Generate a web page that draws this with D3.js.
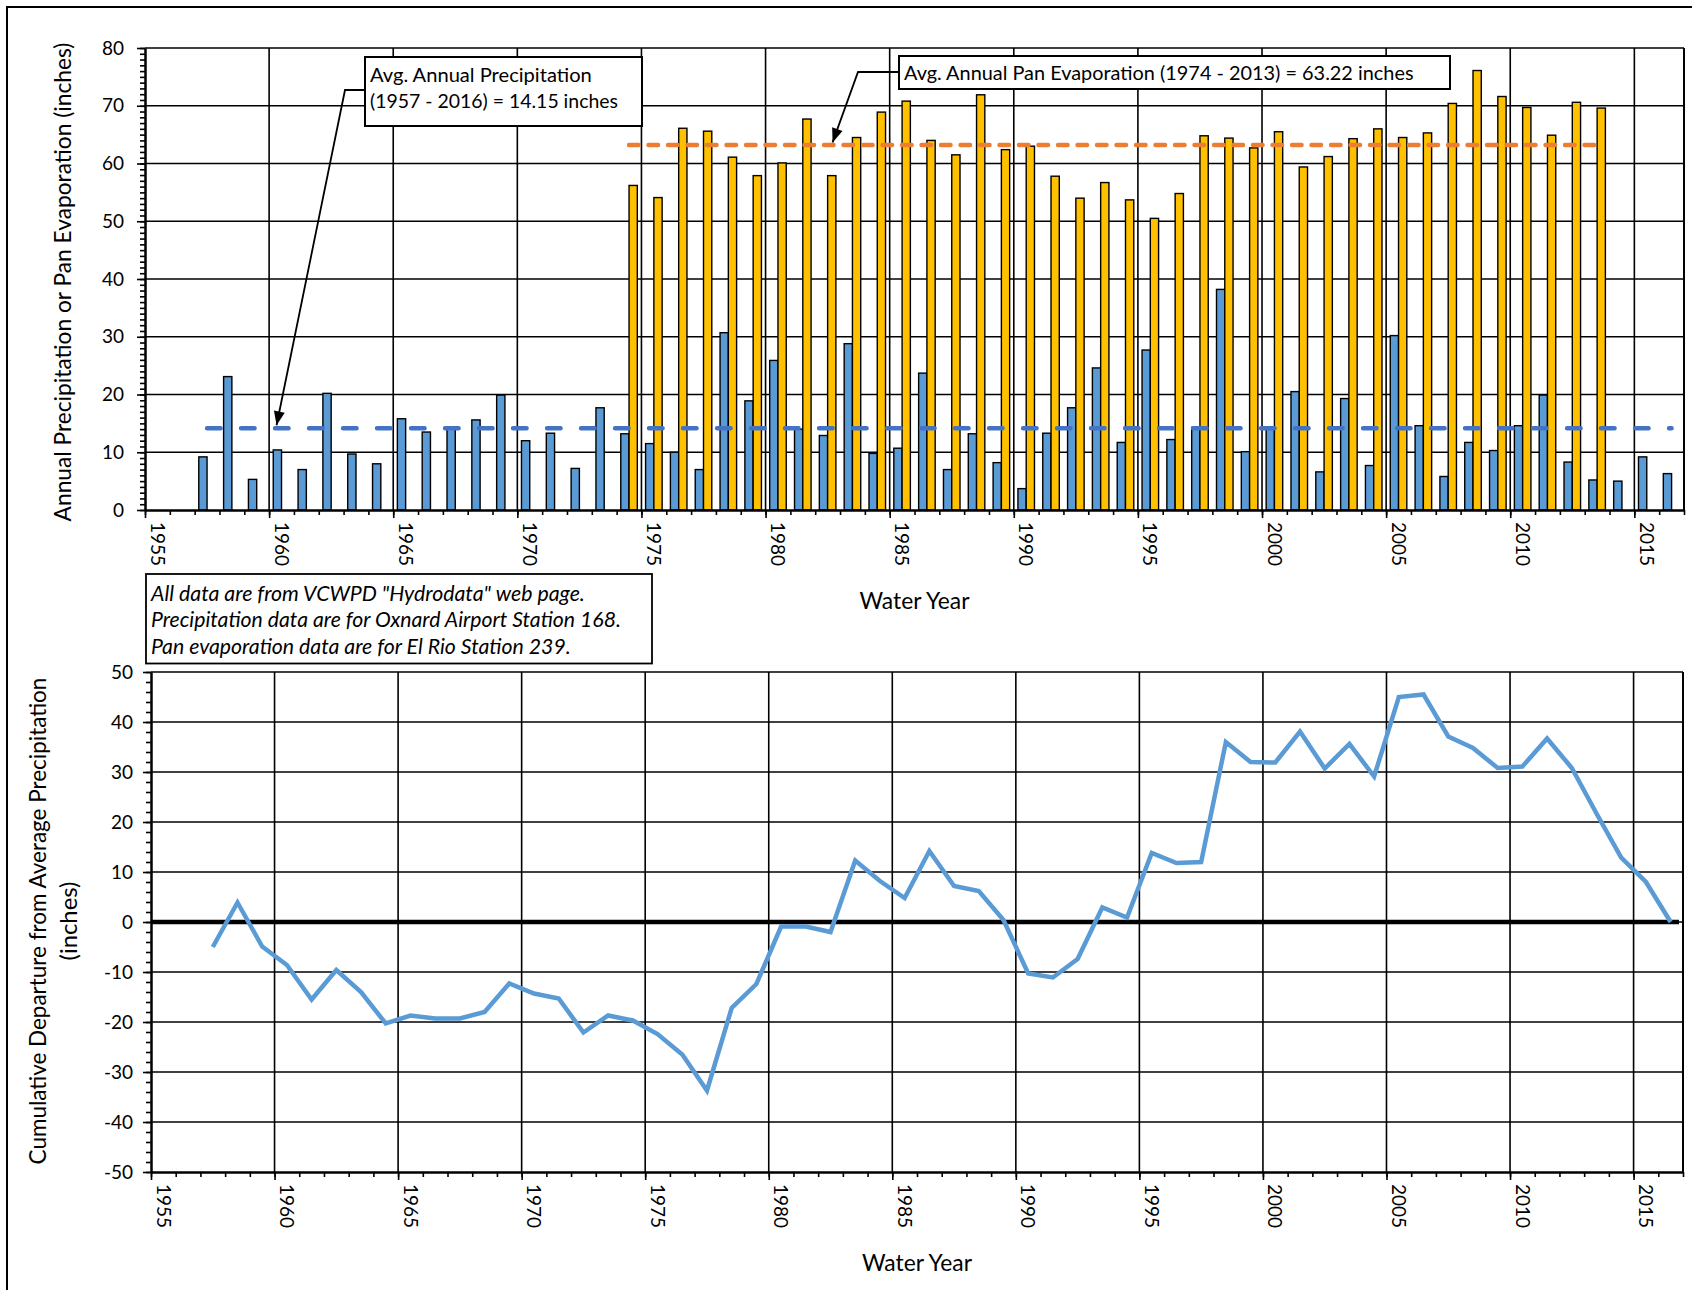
<!DOCTYPE html>
<html>
<head>
<meta charset="utf-8">
<script src="https://cdn.jsdelivr.net/npm/d3@7"></script>
<style>
  html, body { margin: 0; padding: 0; background: #fff; }
  svg { display: block; font-family: Lato, "Open Sans", sans-serif; }
</style>
</head>
<body>
<svg id="chart" width="1692" height="1290"></svg>
<script>
// ---- data -------------------------------------------------------------
const waterYears = [
  1957, 1958, 1959, 1960, 1961, 1962, 1963, 1964, 1965, 1966,
  1967, 1968, 1969, 1970, 1971, 1972, 1973, 1974, 1975, 1976,
  1977, 1978, 1979, 1980, 1981, 1982, 1983, 1984, 1985, 1986,
  1987, 1988, 1989, 1990, 1991, 1992, 1993, 1994, 1995, 1996,
  1997, 1998, 1999, 2000, 2001, 2002, 2003, 2004, 2005, 2006,
  2007, 2008, 2009, 2010, 2011, 2012, 2013, 2014, 2015, 2016
];
// Oxnard Airport Station 168, annual precipitation (inches)
const precipitation = [
   9.2, 23.1,  5.3, 10.4,  7.0, 20.2,  9.7,  8.0, 15.8, 13.5,
  14.1, 15.6, 19.9, 12.0, 13.3,  7.2, 17.7, 13.2, 11.5, 10.0,
   7.0, 30.7, 18.9, 25.9, 14.0, 12.9, 28.8,  9.8, 10.7, 23.7,
   7.0, 13.2,  8.2,  3.7, 13.3, 17.7, 24.6, 11.7, 27.7, 12.2,
  14.3, 38.2, 10.1, 14.1, 20.5,  6.6, 19.3,  7.7, 30.2, 14.6,
   5.8, 11.7, 10.3, 14.6, 19.9,  8.3,  5.2,  5.0,  9.2,  6.3
];
const evapYears = [
  1974, 1975, 1976, 1977, 1978, 1979, 1980, 1981, 1982, 1983,
  1984, 1985, 1986, 1987, 1988, 1989, 1990, 1991, 1992, 1993,
  1994, 1995, 1996, 1997, 1998, 1999, 2000, 2001, 2002, 2003,
  2004, 2005, 2006, 2007, 2008, 2009, 2010, 2011, 2012, 2013
];
// El Rio Station 239, annual pan evaporation (inches)
const panEvaporation = [
  56.2, 54.1, 66.1, 65.6, 61.1, 57.9, 60.1, 67.7, 57.9, 64.5,
  68.9, 70.8, 64.0, 61.5, 71.9, 62.4, 63.0, 57.8, 54.0, 56.7,
  53.7, 50.5, 54.8, 64.8, 64.4, 62.7, 65.5, 59.4, 61.2, 64.3,
  66.0, 64.5, 65.3, 70.4, 76.1, 71.6, 69.7, 64.9, 70.6, 69.6
];
// cumulative departure from the 1957-2016 average (inches)
const cumulativeDeparture = [
   -5.0,   3.9,  -4.9,  -8.6, -15.5,  -9.6, -14.0, -20.3, -18.7, -19.3,
  -19.3, -18.0, -12.3, -14.3, -15.3, -22.1, -18.7, -19.7, -22.4, -26.5,
  -33.7, -17.2, -12.4,  -0.9,  -0.9,  -2.0,  12.3,   8.2,   4.8,  14.2,
    7.2,   6.2,   0.4, -10.3, -11.1,  -7.4,   2.9,   0.9,  13.8,  11.8,
   12.0,  36.0,  32.0,  31.9,  38.1,  30.7,  35.6,  29.1,  45.0,  45.5,
   37.1,  34.8,  30.8,  31.1,  36.7,  30.8,  21.7,  12.9,   8.0,   0.0
];
const avgPrecipitation = 14.15;
const avgEvaporation = 63.22;

const upperTicks = [0, 10, 20, 30, 40, 50, 60, 70, 80];
const lowerTicks = [-50, -40, -30, -20, -10, 0, 10, 20, 30, 40, 50];
const yearTicks = [1955, 1960, 1965, 1970, 1975, 1980, 1985, 1990, 1995, 2000, 2005, 2010, 2015];
const yearDomain = [1955, 2017];

const precipLabel = ["Avg. Annual Precipitation", "(1957 - 2016) = 14.15 inches"];
const evapLabel = "Avg. Annual Pan Evaporation (1974 - 2013) = 63.22 inches";
const sourceNotes = [
  'All data are from VCWPD "Hydrodata" web page.',
  "Precipitation data are for Oxnard Airport Station 168.",
  "Pan evaporation data are for El Rio Station 239."
];

// ---- helpers ----------------------------------------------------------
const svg = d3.select("#chart");
const BLUE = "#5B9BD5", GOLD = "#FFC000", AVG_BLUE = "#4472C4", AVG_ORANGE = "#ED7D31";
const plainNumber = d => String(d); // keeps the ASCII hyphen for negatives

// scale a text node's font size so it spans the given width
function fitWidth(sel, width) {
  sel.each(function () {
    const len = this.getComputedTextLength();
    const fs = parseFloat(this.getAttribute("font-size"));
    if (len > 0) this.setAttribute("font-size", (fs * width / len).toFixed(2));
  });
}

function arrow(g, pts) {
  g.append("path")
    .attr("d", d3.line()(pts))
    .attr("fill", "none").attr("stroke", "#000").attr("stroke-width", 1.8);
  const [a, b] = pts.slice(-2);
  const ang = Math.atan2(b[1] - a[1], b[0] - a[0]);
  const L = 14, W = 5.5;
  const base = [b[0] - L * Math.cos(ang), b[1] - L * Math.sin(ang)];
  const head = [
    b,
    [base[0] + W * Math.sin(ang), base[1] - W * Math.cos(ang)],
    [base[0] - W * Math.sin(ang), base[1] + W * Math.cos(ang)]
  ];
  g.append("path").attr("d", d3.line()(head) + "Z").attr("fill", "#000");
}

// outer frame
svg.append("rect")
  .attr("x", 7).attr("y", 7).attr("width", 1700).attr("height", 1300)
  .attr("fill", "#fff").attr("stroke", "#000").attr("stroke-width", 2);

// ---- upper chart: annual precipitation and pan evaporation ------------
const U = { left: 145, right: 1684, top: 48, bottom: 510 };
const xU = d3.scaleLinear(yearDomain, [U.left, U.right]);
const yU = d3.scaleLinear([0, 80], [U.bottom, U.top]);
const slotU = xU(yearDomain[0] + 1) - xU(yearDomain[0]);
const inner = d3.scaleBand(["precip", "evap"], [0, slotU]).paddingInner(0).paddingOuter(0.5);

const gU = svg.append("g");

// grid
gU.append("g").selectAll("line").data(upperTicks.filter(d => d > 0)).join("line")
  .attr("x1", U.left).attr("x2", U.right)
  .attr("y1", d => yU(d)).attr("y2", d => yU(d))
  .attr("stroke", "#000").attr("stroke-width", 1.3);
gU.append("g").selectAll("line").data(yearTicks.slice(1).concat([yearDomain[1]])).join("line")
  .attr("x1", d => xU(d)).attr("x2", d => xU(d))
  .attr("y1", U.top).attr("y2", U.bottom)
  .attr("stroke", "#000").attr("stroke-width", 1.6);

// bars
const precipData = waterYears.map((y, i) => ({ year: y, value: precipitation[i] }));
const evapData = evapYears.map((y, i) => ({ year: y, value: panEvaporation[i] }));

gU.append("g").selectAll("rect").data(precipData).join("rect")
  .attr("x", d => xU(d.year) + inner("precip"))
  .attr("width", inner.bandwidth())
  .attr("y", d => yU(d.value))
  .attr("height", d => yU(0) - yU(d.value))
  .attr("fill", BLUE).attr("stroke", "#000").attr("stroke-width", 1.4);
gU.append("g").selectAll("rect").data(evapData).join("rect")
  .attr("x", d => xU(d.year) + inner("evap"))
  .attr("width", inner.bandwidth())
  .attr("y", d => yU(d.value))
  .attr("height", d => yU(0) - yU(d.value))
  .attr("fill", GOLD).attr("stroke", "#000").attr("stroke-width", 1.4);

// average lines
gU.append("line")
  .attr("x1", xU(waterYears[0] + 0.5)).attr("x2", xU(waterYears[waterYears.length - 1] + 0.5))
  .attr("y1", yU(avgPrecipitation)).attr("y2", yU(avgPrecipitation))
  .attr("stroke", AVG_BLUE).attr("stroke-width", 4.5)
  .attr("stroke-dasharray", "13.5 20.5").attr("stroke-linecap", "round");
gU.append("line")
  .attr("x1", xU(evapYears[0] + 0.5)).attr("x2", xU(evapYears[evapYears.length - 1] + 0.5))
  .attr("y1", yU(avgEvaporation)).attr("y2", yU(avgEvaporation))
  .attr("stroke", AVG_ORANGE).attr("stroke-width", 4.5)
  .attr("stroke-dasharray", "9.5 10").attr("stroke-linecap", "round");

// axes
gU.append("g").attr("transform", `translate(${U.left},0)`)
  .call(d3.axisLeft(yU).tickValues(d3.range(0, 81, 1)).tickSize(5).tickSizeOuter(0).tickFormat(""));
gU.append("g").attr("transform", `translate(${U.left},0)`)
  .call(d3.axisLeft(yU).tickValues(upperTicks).tickSize(8).tickSizeOuter(0).tickPadding(13).tickFormat(plainNumber));
gU.append("g").attr("transform", `translate(0,${U.bottom})`)
  .call(d3.axisBottom(xU).tickValues(d3.range(yearDomain[0], yearDomain[1] + 1)).tickSize(5).tickSizeOuter(0).tickFormat(""));
const xMajorU = gU.append("g").attr("transform", `translate(0,${U.bottom})`)
  .call(d3.axisBottom(xU).tickValues(yearTicks).tickSize(8).tickSizeOuter(0).tickFormat(plainNumber));

// right border of the plot area
gU.append("line").attr("x1", U.right).attr("x2", U.right).attr("y1", U.top).attr("y2", U.bottom)
  .attr("stroke", "#000").attr("stroke-width", 2);

// ---- lower chart: cumulative departure --------------------------------
const L = { left: 151, right: 1683, top: 672, bottom: 1172 };
const xL = d3.scaleLinear(yearDomain, [L.left, L.right]);
const yL = d3.scaleLinear([-50, 50], [L.bottom, L.top]);
const gL = svg.append("g");

gL.append("g").selectAll("line").data(lowerTicks.filter(d => d > -50)).join("line")
  .attr("x1", L.left).attr("x2", L.right)
  .attr("y1", d => yL(d)).attr("y2", d => yL(d))
  .attr("stroke", "#000").attr("stroke-width", 1.3);
gL.append("g").selectAll("line").data(yearTicks.slice(1).concat([yearDomain[1]])).join("line")
  .attr("x1", d => xL(d)).attr("x2", d => xL(d))
  .attr("y1", L.top).attr("y2", L.bottom)
  .attr("stroke", "#000").attr("stroke-width", 1.6);

// zero reference
gL.append("line")
  .attr("x1", xL(yearDomain[0])).attr("x2", xL(yearDomain[1]) - 4)
  .attr("y1", yL(0)).attr("y2", yL(0))
  .attr("stroke", "#000").attr("stroke-width", 4.5);

const departureData = waterYears.map((y, i) => ({ year: y, value: cumulativeDeparture[i] }));
gL.append("path")
  .datum(departureData)
  .attr("d", d3.line().x(d => xL(d.year + 0.5)).y(d => yL(d.value)))
  .attr("fill", "none").attr("stroke", BLUE).attr("stroke-width", 4.5)
  .attr("stroke-linejoin", "miter").attr("stroke-linecap", "butt");

gL.append("g").attr("transform", `translate(${L.left},0)`)
  .call(d3.axisLeft(yL).tickValues(d3.range(-50, 51, 2)).tickSize(5).tickSizeOuter(0).tickFormat(""));
gL.append("g").attr("transform", `translate(${L.left},0)`)
  .call(d3.axisLeft(yL).tickValues(lowerTicks).tickSize(8).tickSizeOuter(0).tickPadding(10).tickFormat(plainNumber));
gL.append("g").attr("transform", `translate(0,${L.bottom})`)
  .call(d3.axisBottom(xL).tickValues(d3.range(yearDomain[0], yearDomain[1] + 1)).tickSize(5).tickSizeOuter(0).tickFormat(""));
const xMajorL = gL.append("g").attr("transform", `translate(0,${L.bottom})`)
  .call(d3.axisBottom(xL).tickValues(yearTicks).tickSize(8).tickSizeOuter(0).tickFormat(plainNumber));
gL.append("line").attr("x1", L.right).attr("x2", L.right).attr("y1", L.top).attr("y2", L.bottom)
  .attr("stroke", "#000").attr("stroke-width", 2);

// ---- axis styling -------------------------------------------------------
svg.selectAll(".domain").attr("stroke", "#000").attr("stroke-width", 2);
svg.selectAll(".tick line").attr("stroke", "#000").attr("stroke-width", 1.6);
svg.selectAll(".tick text")
  .attr("font-family", "Lato, 'Open Sans', sans-serif").attr("font-size", 19).attr("fill", "#000");

// rotated year labels, reading downward
[xMajorU, xMajorL].forEach(g => {
  g.selectAll(".tick text")
    .attr("transform", "rotate(90)")
    .attr("x", 12).attr("y", -5).attr("dy", 0)
    .attr("text-anchor", "start");
});

// ---- titles -------------------------------------------------------------
const titleFont = "Lato, 'Open Sans', sans-serif";
svg.append("text")
  .attr("transform", "translate(63,282) rotate(-90)")
  .attr("text-anchor", "middle").attr("dy", "0.35em")
  .attr("font-family", titleFont).attr("font-size", 22).attr("fill", "#000")
  .text("Annual Precipitation or Pan Evaporation (inches)")
  .call(fitWidth, 479);

svg.append("text")
  .attr("transform", "translate(38,921) rotate(-90)")
  .attr("text-anchor", "middle").attr("dy", "0.35em")
  .attr("font-family", titleFont).attr("font-size", 22).attr("fill", "#000")
  .text("Cumulative Departure from Average Precipitation")
  .call(fitWidth, 487);
svg.append("text")
  .attr("transform", "translate(69,921) rotate(-90)")
  .attr("text-anchor", "middle").attr("dy", "0.35em")
  .attr("font-family", titleFont).attr("font-size", 22).attr("fill", "#000")
  .text("(inches)")
  .call(fitWidth, 79);

[[(U.left + U.right) / 2, 601], [(L.left + L.right) / 2, 1263]].forEach(([cx, cy]) => {
  svg.append("text")
    .attr("x", cx).attr("y", cy).attr("dy", "0.35em")
    .attr("text-anchor", "middle")
    .attr("font-family", titleFont).attr("font-size", 22).attr("fill", "#000")
    .text("Water Year")
    .call(fitWidth, 110);
});

// ---- annotations --------------------------------------------------------
const ann = svg.append("g");

// precipitation average callout
arrow(ann, [[365, 90], [345, 90], [xU(1960.3), yU(avgPrecipitation) - 3]]);
ann.append("rect").attr("x", 365).attr("y", 57).attr("width", 277).attr("height", 69)
  .attr("fill", "#fff").attr("stroke", "#000").attr("stroke-width", 2);
precipLabel.forEach((t, i) => {
  ann.append("text").attr("x", 370).attr("y", 82 + i * 26)
    .attr("font-family", titleFont).attr("font-size", 19).attr("fill", "#000")
    .text(t).call(fitWidth, i === 0 ? 222 : 248);
});

// evaporation average callout
arrow(ann, [[899, 72], [858, 72], [xU(1982.7), yU(avgEvaporation) - 2.5]]);
ann.append("rect").attr("x", 899).attr("y", 56).attr("width", 551).attr("height", 33)
  .attr("fill", "#fff").attr("stroke", "#000").attr("stroke-width", 2);
ann.append("text").attr("x", 904).attr("y", 80)
  .attr("font-family", titleFont).attr("font-size", 19).attr("fill", "#000")
  .text(evapLabel).call(fitWidth, 510);

// data source note
ann.append("rect").attr("x", 146).attr("y", 574).attr("width", 506).attr("height", 89.5)
  .attr("fill", "#fff").attr("stroke", "#000").attr("stroke-width", 1.8);
const noteWidths = [434, 470, 420];
sourceNotes.forEach((t, i) => {
  ann.append("text").attr("x", 151).attr("y", 600.5 + i * 26.5)
    .attr("font-family", titleFont).attr("font-style", "italic")
    .attr("font-size", 19).attr("fill", "#000")
    .text(t).call(fitWidth, noteWidths[i]);
});
</script>
</body>
</html>
